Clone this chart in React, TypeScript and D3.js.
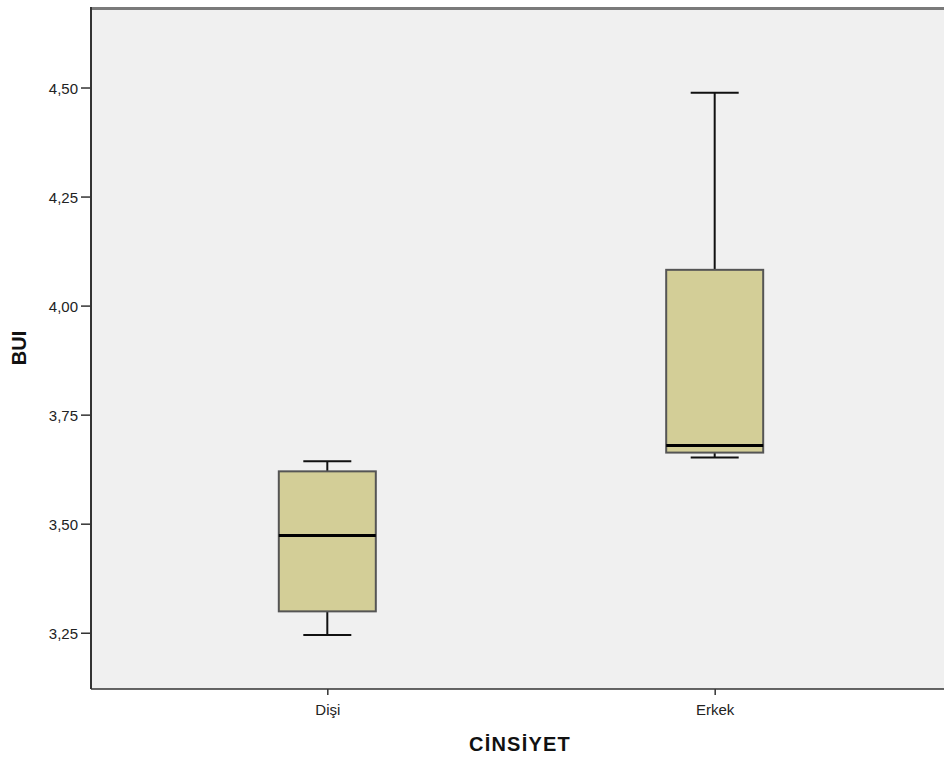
import React, { useRef, useEffect } from "react";
import * as d3 from "d3";

// Box plot summary values per gender
const categories = ["Dişi", "Erkek"];
const whiskerLow = [3.245, 3.652];
const q1 = [3.299, 3.663];
const median = [3.473, 3.679];
const q3 = [3.62, 4.082];
const whiskerHigh = [3.643, 4.488];
const yTicks = [3.25, 3.5, 3.75, 4.0, 4.25, 4.5];

const FONT = "Liberation Sans, Arial, sans-serif";

const App = () => {
  const ref = useRef<SVGSVGElement>(null);

  useEffect(() => {
    const svg = d3.select(ref.current);
    svg.selectAll("*").remove();

    const width = 944;
    const height = 759;
    const left = 91;
    const top = 9;
    const right = 951;
    const bottom = 689;

    const y = d3.scaleLinear().domain([3.121, 4.68]).range([bottom, top]);
    const x = d3.scalePoint<string>().domain(categories).range([left, right]).padding(0.61);

    // plot background
    svg
      .append("rect")
      .attr("x", left)
      .attr("y", top)
      .attr("width", right - left)
      .attr("height", bottom - top)
      .attr("fill", "#f0f0f0");

    // top frame line
    svg
      .append("line")
      .attr("x1", left)
      .attr("x2", width)
      .attr("y1", top - 0.5)
      .attr("y2", top - 0.5)
      .attr("stroke", "#7a7a7a")
      .attr("stroke-width", 3);

    const yAxis = d3
      .axisLeft(y)
      .tickValues(yTicks)
      .tickSize(10)
      .tickSizeOuter(0)
      .tickFormat((d) => d3.format(".2f")(d as number).replace(".", ","));

    const gy = svg.append("g").attr("transform", `translate(${left},0)`).call(yAxis);
    gy.select(".domain").attr("stroke", "#333").attr("stroke-width", 2).attr("d", `M0,${top - 2}V${bottom}`);
    gy.selectAll(".tick line").attr("stroke", "#333").attr("stroke-width", 1.5);
    gy.selectAll(".tick text")
      .attr("x", -13)
      .attr("dy", "0.38em")
      .attr("fill", "#222")
      .style("font-family", FONT)
      .style("font-size", "15px");

    const xAxis = d3.axisBottom(x).tickSize(6).tickSizeOuter(0);
    const gx = svg.append("g").attr("transform", `translate(0,${bottom})`).call(xAxis);
    gx.select(".domain").attr("stroke", "#333").attr("stroke-width", 1.5).attr("d", `M${left},0H${width}`);
    gx.selectAll(".tick line").attr("stroke", "#333").attr("stroke-width", 1.5);
    gx.selectAll(".tick text")
      .attr("y", 15)
      .attr("fill", "#222")
      .style("font-family", FONT)
      .style("font-size", "15px");

    const boxW = 97;
    const capW = 48;

    const g = svg.append("g");
    categories.forEach((c, i) => {
      const cx = x(c) as number;
      // whiskers
      g.append("line")
        .attr("x1", cx).attr("x2", cx)
        .attr("y1", y(whiskerHigh[i])).attr("y2", y(q3[i]))
        .attr("stroke", "#111").attr("stroke-width", 2);
      g.append("line")
        .attr("x1", cx).attr("x2", cx)
        .attr("y1", y(q1[i])).attr("y2", y(whiskerLow[i]))
        .attr("stroke", "#111").attr("stroke-width", 2);
      [whiskerHigh[i], whiskerLow[i]].forEach((v) => {
        g.append("line")
          .attr("x1", cx - capW / 2).attr("x2", cx + capW / 2)
          .attr("y1", y(v)).attr("y2", y(v))
          .attr("stroke", "#111").attr("stroke-width", 2);
      });
      // box
      g.append("rect")
        .attr("x", cx - boxW / 2)
        .attr("y", y(q3[i]))
        .attr("width", boxW)
        .attr("height", y(q1[i]) - y(q3[i]))
        .attr("fill", "#d3ce97")
        .attr("stroke", "#555")
        .attr("stroke-width", 2);
      // median
      g.append("line")
        .attr("x1", cx - boxW / 2).attr("x2", cx + boxW / 2)
        .attr("y1", y(median[i])).attr("y2", y(median[i]))
        .attr("stroke", "#000").attr("stroke-width", 3);
    });

    // axis titles
    svg
      .append("text")
      .attr("transform", `translate(26,348) rotate(-90)`)
      .attr("text-anchor", "middle")
      .style("font-family", FONT)
      .style("font-size", "20px")
      .style("font-weight", "bold")
      .attr("fill", "#111")
      .text("BUI");

    svg
      .append("text")
      .attr("x", 520)
      .attr("y", 751)
      .attr("text-anchor", "middle")
      .style("font-family", FONT)
      .style("font-size", "20px")
      .style("font-weight", "bold")
      .style("letter-spacing", "1.2px")
      .attr("fill", "#111")
      .text("CİNSİYET");

    svg.attr("width", width).attr("height", height);
  }, []);

  return (
    <svg
      ref={ref}
      style={{ position: "absolute", left: 0, top: 0, display: "block", background: "#fff" }}
    />
  );
};

export default App;
